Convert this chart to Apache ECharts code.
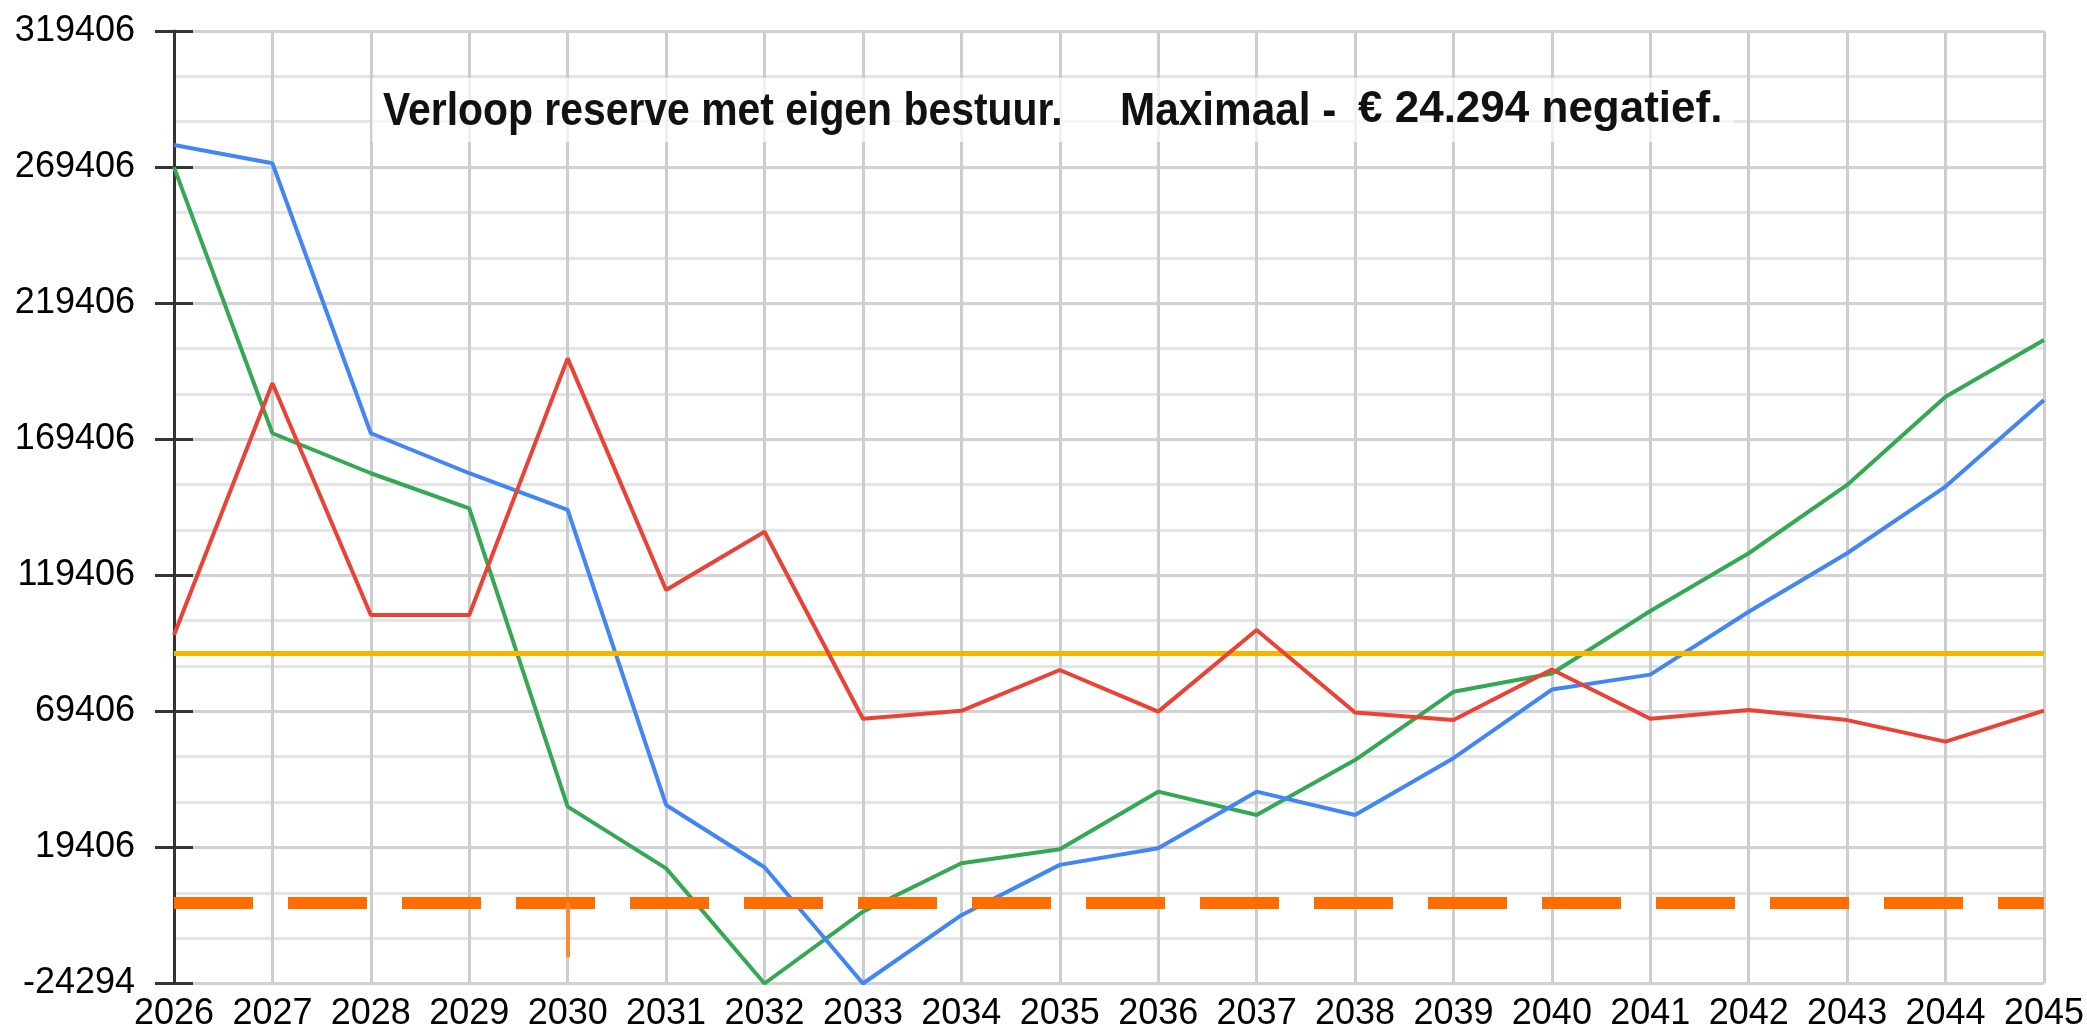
<!DOCTYPE html>
<html><head><meta charset="utf-8">
<script src="https://cdn.jsdelivr.net/npm/echarts@6/dist/echarts.min.js"></script>
<style>html,body{margin:0;padding:0;background:#fff}#c{width:2087px;height:1033px}</style>
</head><body><div id="c"></div>
<script>
// ---- data ----
const years = ['2026','2027','2028','2029','2030','2031','2032','2033','2034','2035','2036','2037','2038','2039','2040','2041','2042','2043','2044','2045'];
const blueValues  = [277500, 270800, 171600, 156900, 143400, 35000, 12100, -30594, -5500, 13000, 19100, 39900, 31300, 52200, 77400, 82900, 106000, 127500, 152000, 183800];
const greenValues = [269400, 171600, 156900, 144000, 34400, 11700, -30594, -4200, 13600, 18700, 39900, 31300, 51500, 76600, 83300, 106300, 127500, 152600, 185000, 205900];
const redValues   = [97500, 190000, 104800, 104800, 199100, 114000, 135400, 66700, 69600, 84600, 69300, 99300, 69000, 66200, 84800, 66700, 69900, 66200, 58300, 69700];
const yellowLevel = 90600;
const orangeLevel = -1000;
const orangeStrokeYear = '2030';
const orangeStrokeEnd = -21000;
const yAxisMin = -30594;
const yAxisMax = 319406;
const yInterval = 50000;
const yTickLabels = ['-24294','19406','69406','119406','169406','219406','269406','319406'];
const titleMain = 'Verloop reserve met eigen bestuur.';
const titleMid = 'Maximaal -';
const titleAmount = '€ 24.294 negatief.';

const chart = echarts.init(document.getElementById('c'), null, {renderer:'canvas'});
const FONT = '"Liberation Sans", Arial, Helvetica, sans-serif';

const baseY = {
  type:'value', min:yAxisMin, max:yAxisMax, interval:yInterval, position:'left'
};

chart.setOption({
  animation:false,
  backgroundColor:'#ffffff',
  grid:{left:174, right:38, top:31, bottom:49.5, containLabel:false},
  graphic:[
    {type:'rect', z:1, shape:{x:372, y:78, width:1362, height:64}, style:{fill:'rgba(255,255,255,0.7)'}},
    {type:'text', z:100, x:383, y:112, scaleX:0.87, style:{text:titleMain, font:'bold 47px '+FONT, fill:'#111', verticalAlign:'middle', align:'left'}},
    {type:'text', z:100, x:1120, y:112, scaleX:0.9, style:{text:titleMid, font:'bold 47px '+FONT, fill:'#111', verticalAlign:'middle', align:'left'}},
    {type:'text', z:100, x:1358, y:110, style:{text:titleAmount, font:'bold 44px '+FONT, fill:'#111', verticalAlign:'middle', align:'left'}}
  ],
  xAxis:{
    type:'category', data:years, boundaryGap:false,
    axisLine:{show:false}, axisTick:{show:false},
    axisLabel:{color:'#000', fontSize:36, fontFamily:FONT, margin:13, interval:0},
    splitLine:{show:true, interval:0, lineStyle:{color:'#cdcdcd', width:3}}
  },
  yAxis:[
    Object.assign({}, baseY, {
      axisLine:{show:true, lineStyle:{color:'#333', width:3}},
      axisTick:{show:true, length:19, lineStyle:{color:'#333', width:3}},
      axisLabel:{color:'#000', fontSize:36, fontFamily:FONT, margin:39, padding:[0,0,12,0],
        formatter:function(v){ return yTickLabels[Math.round((v - yAxisMin)/yInterval)] || ''; }},
      splitLine:{show:true, lineStyle:{color:'#d2d2d2', width:3}},
      minorTick:{show:true, splitNumber:3, length:0, lineStyle:{opacity:0}},
      minorSplitLine:{show:true, lineStyle:{color:'#e4e4e4', width:3}}
    }),
    Object.assign({}, baseY, {
      axisLine:{show:false},
      axisTick:{show:true, inside:true, length:19, lineStyle:{color:'#333', width:3}},
      axisLabel:{show:false},
      splitLine:{show:false}
    })
  ],
  series:[
    {type:'line', name:'geel', data:[], yAxisIndex:0, z:2,
     markLine:{silent:true, symbol:'none', label:{show:false}, animation:false,
       lineStyle:{color:'#F6B400', width:5, type:'solid'},
       data:[{yAxis:yellowLevel}]}},
    {type:'line', name:'groen', data:greenValues, yAxisIndex:0, showSymbol:false, z:3,
     lineStyle:{color:'#34A853', width:4}, itemStyle:{color:'#34A853'}},
    {type:'line', name:'blauw', data:blueValues, yAxisIndex:0, showSymbol:false, z:4,
     lineStyle:{color:'#4285F4', width:4}, itemStyle:{color:'#4285F4'}},
    {type:'line', name:'rood', data:redValues, yAxisIndex:0, showSymbol:false, z:5,
     lineStyle:{color:'#EA4335', width:4}, itemStyle:{color:'#EA4335'}},
    {type:'line', name:'oranje', data:[], yAxisIndex:0, z:6,
     markLine:{silent:true, symbol:'none', label:{show:false}, animation:false,
       data:[
         {yAxis:orangeLevel, lineStyle:{color:'#FF6D01', width:12, type:[79,35], cap:'butt'}},
         [{coord:[orangeStrokeYear, orangeLevel], lineStyle:{color:'#FF8A33', width:4, type:'solid'}},
          {coord:[orangeStrokeYear, orangeStrokeEnd]}]
       ]}}
  ]
});
</script>
</body></html>
